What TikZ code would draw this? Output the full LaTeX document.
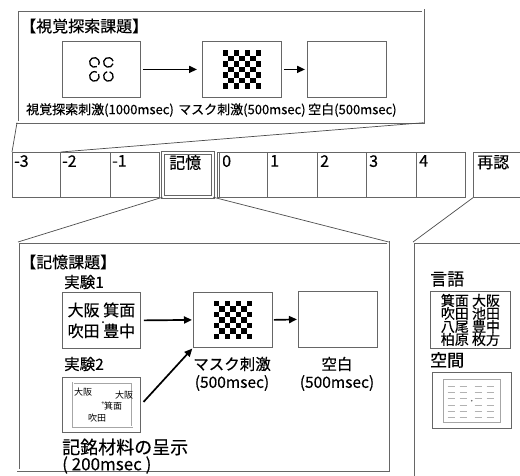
\documentclass[tikz,border=0pt]{standalone}
\usepackage{fontspec}
\setmainfont{Noto Sans CJK JP}[BoldFont=Noto Sans CJK JP, BoldFeatures={FakeBold=0.35}]
\usetikzlibrary{arrows.meta}
\tikzset{
  frame/.style={draw=black!60, double=white, double distance=2pt, line width=0.7pt, inner sep=0pt},
  box/.style={draw=black!60, line width=0.8pt, fill=white, inner sep=0pt, anchor=north west},
  cellbox/.style={draw=black!60, line width=0.7pt, minimum height=45pt, inner sep=0pt, anchor=north west},
  celltxt/.style={anchor=north west, inner sep=0pt, font=\bfseries\fontsize{16}{18}\selectfont},
  arr/.style={-{Triangle[length=8pt,width=7pt]}, line width=1.7pt},
  callout/.style={draw=black!70, line width=0.7pt},
  lbl/.style={inner sep=0pt, font=\bfseries\fontsize{13}{15}\selectfont},
  lblb/.style={inner sep=0pt, font=\bfseries\fontsize{15.5}{18}\selectfont},
  checker/.pic={
    \foreach \i in {0,...,6}{\foreach \j in {0,...,6}{
      \pgfmathtruncatemacro\s{mod(\i+\j,2)}
      \ifnum\s=0 \fill (-19.25+\i*5.5,-19.25+\j*5.5) rectangle ++(5.5,5.5); \fi
    }}
  },
  landolt/.pic={
    \foreach \cx/\cy/\sa in {-7/-7/60, 7/-7/15, -7/7/-30, 7/7/-75}{
      \draw[line width=1.3pt] (\cx,\cy) ++(\sa:4.8) arc[start angle=\sa, delta angle=330, radius=4.8];
    }
  }
}
\begin{document}
\begin{tikzpicture}[x=1pt,y=-1pt]
\clip (0,0) rectangle (520,475);
\fill[white] (0,0) rectangle (520,475);

% ---------- visual search box ----------
\node[frame, minimum width=406pt, minimum height=112pt, anchor=north west] (vs) at (17,10) {};
\node[anchor=west, inner sep=0pt, font=\bfseries\fontsize{16}{18}\selectfont] (vst) at (20,26) {【視覚探索課題】};
\node[box, minimum width=78pt, minimum height=56pt] (s1) at (62,41) {};
\pic at (s1.center) {landolt};
\node[box, minimum width=79pt, minimum height=56pt] (s2) at (202,41) {};
\pic at (s2.center) {checker};
\node[box, minimum width=79pt, minimum height=56pt] (s3) at (307,41) {};
\draw[arr, shorten <=2pt, shorten >=5pt] (s1.east) -- (s2.west);
\draw[arr, shorten <=2pt, shorten >=2pt] (s2.east) -- (s3.west);
\node[lbl, anchor=west] (l1) at (26,110) {視覚探索刺激(1000msec)};
\node[lbl, anchor=west] (l2) at (178,110) {マスク刺激(500msec)};
\node[lbl, anchor=west] (l3) at (308,110) {空白(500msec)};

% ---------- timeline ----------
\node[cellbox, minimum width=48pt] (cm3) at (12,152) {};
\node[cellbox, minimum width=50pt] (cm2) at (60,152) {};
\node[cellbox, minimum width=49pt] (cm1) at (110,152) {};
\node[frame, minimum width=50pt, minimum height=44pt, anchor=north west] (mem) at (162.5,152.5) {};
\node[cellbox, minimum width=50pt] (c0) at (217,152) {};
\draw[draw=black!60, line width=0.7pt] ([xshift=2.5pt]c0.north west) -- ([xshift=2.5pt]c0.south west);
\node[cellbox, minimum width=50pt] (c1) at (267,152) {};
\node[cellbox, minimum width=49pt] (c2) at (317,152) {};
\node[cellbox, minimum width=50pt] (c3) at (366,152) {};
\node[cellbox, minimum width=49pt] (c4) at (416,152) {};
\node[cellbox, minimum width=60pt] (rec) at (473,152) {};
\node[celltxt] at (14,155) {-3};
\node[celltxt] at (62,155) {-2};
\node[celltxt] at (112,155) {-1};
\node[celltxt] at (169,155) {記憶};
\node[celltxt] at (222,155) {0};
\node[celltxt] at (270,155) {1};
\node[celltxt] at (320,155) {2};
\node[celltxt] at (369,155) {3};
\node[celltxt] at (419,155) {4};
\node[celltxt] at (477,155) {再認};

% callouts
\draw[callout] (cm3.north west) -- (vs.south west);
\draw[callout] (cm3.north east) -- (vs.south east);

% ---------- memory box ----------
\node[frame, minimum width=370pt, minimum height=228pt, anchor=north west] (mb) at (18,242) {};
\node[frame, minimum width=120pt, minimum height=260pt, anchor=north west] (rb) at (413,242) {};
\draw[callout] (mem.south west) -- (mb.north west);
\draw[callout] (mem.south east) -- (mb.north east);
\draw[callout] (rec.south west) -- (rb.north west);

\node[anchor=west, inner sep=0pt, font=\bfseries\fontsize{16}{18}\selectfont] (mbt) at (20,262) {【記憶課題】};
\node[lblb, anchor=west] (e1) at (64,282) {実験1};
\node[box, minimum width=78pt, minimum height=56pt] (wa) at (62,292) {};
\node[inner sep=0pt, align=left, font=\bfseries\fontsize{16}{21}\selectfont] at (wa.center) {大阪 箕面\\吹田 豊中};
\fill (103,322) circle (1pt);
\node[box, minimum width=79pt, minimum height=55pt] (mm) at (193,292) {};
\pic at (mm.center) {checker};
\node[box, minimum width=79pt, minimum height=56pt] (mbl) at (298,291) {};
\draw[arr, shorten <=3pt, shorten >=1pt] (wa.east) -- (mm.west);
\draw[arr, shorten <=1pt, shorten >=1pt] (mm.east) -- (mbl.west);
\node[lblb] at (232,364) {マスク刺激};
\node[lblb] at (232,383) {(500msec)};
\node[lblb] at (337,364) {空白};
\node[lblb] at (337,383) {(500msec)};

\node[lblb, anchor=west] (e2) at (64,364) {実験2};
\node[box, minimum width=78pt, minimum height=55pt] (wb) at (62,377) {};
\node[draw=black!35, double=white, double distance=1pt, line width=0.5pt, minimum width=59pt, minimum height=44pt, anchor=north west, inner sep=0pt] (wbi) at (73,382.5) {};
\node[inner sep=0pt, font=\fontsize{9}{10}\selectfont] at (83,392) {大阪};
\node[inner sep=0pt, font=\fontsize{9}{10}\selectfont] at (124,395) {大阪};
\node[inner sep=0pt, font=\fontsize{9}{10}\selectfont] at (113,406) {箕面};
\node[inner sep=0pt, font=\fontsize{6}{7}\selectfont] at (103,404) {+};
\node[inner sep=0pt, font=\fontsize{9}{10}\selectfont] at (97,418) {吹田};
\draw[arr, shorten <=4pt, shorten >=1pt] (wb.east) -- (mm.south west);
\node[inner sep=0pt, anchor=west, font=\bfseries\fontsize{18}{20}\selectfont] (kim) at (62,447) {記銘材料の呈示};
\node[inner sep=0pt, anchor=west, font=\bfseries\fontsize{17}{20}\selectfont] (kms) at (62,465) {( 200msec )};

% ---------- recognition box ----------
\node[inner sep=0pt, anchor=west, font=\bfseries\fontsize{17}{20}\selectfont] (gen) at (430,279) {言語};
\node[box, minimum width=80pt, minimum height=57pt] (wl) at (430,291) {};
\node[inner sep=0pt, align=left, font=\bfseries\fontsize{14}{13}\selectfont] at (wl.center) {箕面 大阪\\吹田 池田\\八尾 豊中\\柏原 枚方};
\node[inner sep=0pt, anchor=west, font=\bfseries\fontsize{17}{20}\selectfont] (kuk) at (430,360) {空間};
\node[box, minimum width=79pt, minimum height=56pt] (sp) at (432,372) {};
\node[draw=black!35, line width=0.5pt, minimum width=57pt, minimum height=43pt, anchor=north west, inner sep=0pt] (spi) at (443,379) {};
\foreach \x in {451,463,478,490}{\foreach \y in {386,392,398,405,411,417}{
  \draw[black!30, line width=0.6pt] (\x-3.5,\y) -- (\x+3.5,\y);}}
\fill[black!60] (spi.center) circle (0.8pt);
\end{tikzpicture}
\end{document}
